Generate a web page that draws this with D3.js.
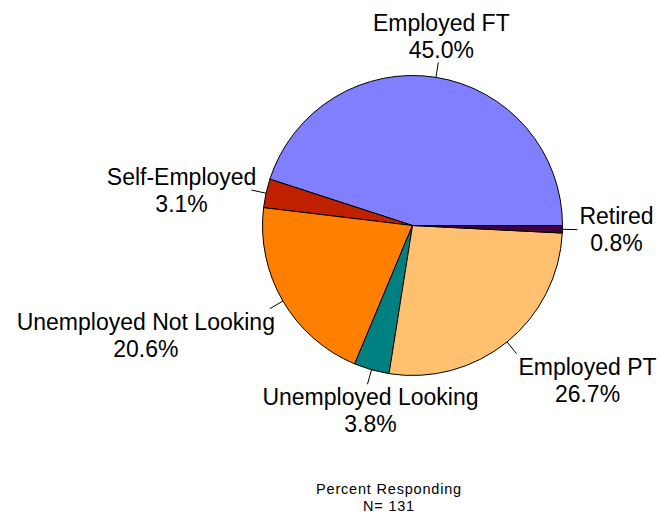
<!DOCTYPE html>
<html>
<head>
<meta charset="utf-8">
<script src="https://cdn.jsdelivr.net/npm/d3@7"></script>
<style>
  html, body { margin: 0; padding: 0; background: #fff; }
  svg { display: block; }
  text { font-family: Arial, "Liberation Sans", sans-serif; fill: #000; }
</style>
</head>
<body>
<svg id="chart" width="660" height="514"></svg>
<script>
// Employment status of respondents (percent of N = 131)
const categories = ["Employed FT", "Self-Employed", "Unemployed Not Looking",
                    "Unemployed Looking", "Employed PT", "Retired"];
const percents = [45.0, 3.1, 20.6, 3.8, 26.7, 0.8];
const colors = ["#8080ff", "#bf2000", "#ff8000", "#008080", "#ffc070", "#400040"];
const footnote = ["Percent Responding", "N= 131"];

const svg = d3.select("#chart");
const cx = 412.5, cy = 225.5, radius = 150;
const leaderLen = 15;

const data = categories.map((c, i) => ({ name: c, value: percents[i], color: colors[i] }));

// Slices run counter-clockwise, starting at 3 o'clock
const pie = d3.pie()
  .value(d => d.value)
  .sort(null)
  .startAngle(Math.PI / 2)
  .endAngle(Math.PI / 2 - 2 * Math.PI);

const arc = d3.arc().innerRadius(0).outerRadius(radius);
const arcs = pie(data);

const g = svg.append("g").attr("transform", `translate(${cx},${cy})`);

g.selectAll("path.slice")
  .data(arcs)
  .join("path")
  .attr("class", "slice")
  .attr("d", arc)
  .attr("fill", d => d.data.color)
  .attr("stroke", "#000")
  .attr("stroke-width", 1)
  .attr("stroke-linejoin", "round");

// Leader lines and labels
const fmt = d3.format(".1f");
const lineGap = 27;

arcs.forEach(d => {
  const a = (d.startAngle + d.endAngle) / 2;
  const sx = Math.sin(a), sy = -Math.cos(a);
  const p0 = [sx * radius, sy * radius];
  const p1 = [sx * (radius + leaderLen), sy * (radius + leaderLen)];

  g.append("line")
    .attr("x1", p0[0]).attr("y1", p0[1])
    .attr("x2", p1[0]).attr("y2", p1[1])
    .attr("stroke", "#000")
    .attr("stroke-width", 1);

  const label = g.append("g");
  const lines = [d.data.name, fmt(d.data.value) + "%"];
  const texts = lines.map(t => label.append("text")
    .attr("font-size", 23)
    .attr("text-anchor", "middle")
    .text(t));
  const w = d3.max(texts, t => t.node().getComputedTextLength());

  // horizontal placement of the text block
  let bx;
  if (sx > 0.3) bx = p1[0] + 2 + w / 2;
  else if (sx < -0.3) bx = p1[0] + 5 - w / 2;
  else bx = p1[0] + 3;

  // vertical placement: first baseline
  let by;
  if (sy < -0.3) by = p1[1] - 4.5 - lineGap;
  else if (sy > 0.3) by = p1[1] + 21;
  else by = p1[1] - 5.5;

  texts.forEach((t, i) => t.attr("x", bx).attr("y", by + i * lineGap));
});

// Footnote
svg.append("g")
  .selectAll("text")
  .data(footnote)
  .join("text")
  .attr("x", 389)
  .attr("y", (d, i) => 494 + i * 16.5)
  .attr("text-anchor", "middle")
  .attr("font-size", 14.5)
  .attr("letter-spacing", 0.8)
  .text(d => d);
</script>
</body>
</html>
